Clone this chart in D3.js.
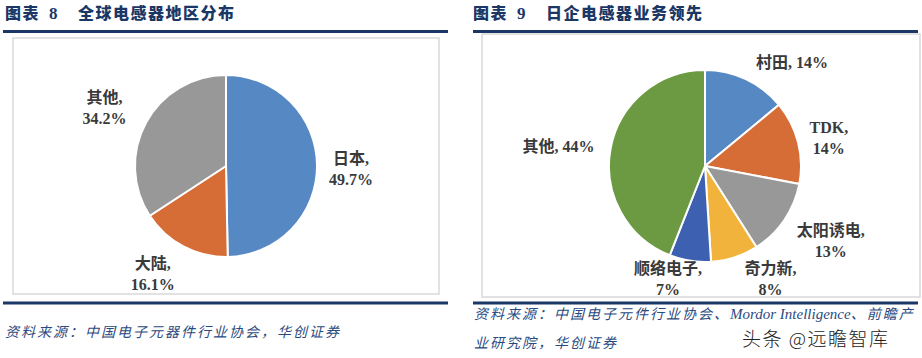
<!DOCTYPE html>
<html><head><meta charset="utf-8">
<script src="https://cdn.jsdelivr.net/npm/d3@7"></script>
<style>
html,body{margin:0;padding:0;background:#fff;}
svg{display:block;}
</style></head>
<body>
<svg id="c" width="922" height="358"></svg>
<script>
// ---- data ----
const leftCategories = ["日本", "大陆", "其他"];
const leftValues = [49.7, 16.1, 34.2];
const leftLabels = ["49.7%", "16.1%", "34.2%"];
const leftColors = ["#5689c4", "#d66d37", "#989898"];

const rightCategories = ["村田", "TDK", "太阳诱电", "奇力新", "顺络电子", "其他"];
const rightValues = [14, 14, 13, 8, 7, 44];
const rightLabels = ["14%", "14%", "13%", "8%", "7%", "44%"];
const rightColors = ["#5689c4", "#d66d37", "#989898", "#f2b33d", "#3d61b0", "#6b9a42"];
const rightSingleLine = [true, false, false, false, false, true];

// layout nudges for labels (pixels)
const leftNudge = [[-4, 3], [-13, -7], [-8, 2]];
const rightNudge = [[30, 17], [-6, 4], [15, -1], [24, -15], [-16, -20], [-15, 5]];

const svg = d3.select("#c");
const navy = "#1a3766";
const labelFont = "'Liberation Serif','Times New Roman','Noto Sans CJK SC',serif";
const cjkFont = "'Noto Sans CJK SC','Liberation Serif',sans-serif";

// Titles
function title(x, num, txt) {
  const t = svg.append("text").attr("x", x).attr("y", 19)
    .attr("font-family", cjkFont).attr("font-weight", 900)
    .attr("font-size", 16).attr("fill", navy).attr("letter-spacing", 1.5);
  t.append("tspan").text("图表");
  t.append("tspan").attr("font-family", labelFont).attr("font-weight", 700).attr("font-size", 17).attr("dx", 9).text(num);
  t.append("tspan").attr("dx", 19).text(txt);
}
title(5, "8", "全球电感器地区分布");
title(473, "9", "日企电感器业务领先");

// rules
[[3, 448], [473, 918]].forEach(([a, b]) => {
  svg.append("line").attr("x1", a).attr("x2", b).attr("y1", 31.5).attr("y2", 31.5)
    .attr("stroke", navy).attr("stroke-width", 3);
  svg.append("line").attr("x1", a).attr("x2", b).attr("y1", 303).attr("y2", 303)
    .attr("stroke", navy).attr("stroke-width", 3);
});

// boxes
svg.append("rect").attr("x", 13).attr("y", 38).attr("width", 426).attr("height", 256)
  .attr("fill", "#fff").attr("stroke", "#d9d9d9").attr("stroke-width", 1.5);
svg.append("rect").attr("x", 482).attr("y", 34).attr("width", 438).attr("height", 263)
  .attr("fill", "#fff").attr("stroke", "#d9d9d9").attr("stroke-width", 1.5);

function drawPie(cx, cy, r, cats, vals, labs, cols, nudge, single) {
  const pie = d3.pie().sort(null).value(d => d)(vals);
  const arc = d3.arc().innerRadius(0).outerRadius(r);
  const g = svg.append("g").attr("transform", `translate(${cx},${cy})`);
  g.selectAll("path").data(pie).enter().append("path")
    .attr("d", arc).attr("fill", (d, i) => cols[i])
    .attr("stroke", "#fff").attr("stroke-width", 2).attr("stroke-linejoin", "round");
  const lr = r + 38;
  pie.forEach((d, i) => {
    const a = (d.startAngle + d.endAngle) / 2;
    const x = Math.sin(a) * lr + nudge[i][0];
    const y = -Math.cos(a) * lr + nudge[i][1];
    const t = g.append("text").attr("text-anchor", "middle")
      .attr("font-family", labelFont).attr("font-weight", 700)
      .attr("font-size", 16).attr("fill", "#3a3a3a");
    if (single && single[i]) {
      t.attr("x", x).attr("y", y + 6).text(cats[i] + ", " + labs[i]);
    } else {
      t.append("tspan").attr("x", x).attr("y", y - 4).text(cats[i] + ",");
      t.append("tspan").attr("x", x).attr("y", y + 17).text(labs[i]);
    }
  });
}
drawPie(226, 166, 91, leftCategories, leftValues, leftLabels, leftColors, leftNudge, null);
drawPie(705, 166, 96, rightCategories, rightValues, rightLabels, rightColors, rightNudge, rightSingleLine);

// footers
const srcColor = "#2b4a80";
function footer(x, y, txt) {
  svg.append("text").attr("x", x).attr("y", y)
    .attr("font-family", "'Noto Sans CJK SC','Liberation Serif',sans-serif")
    .attr("font-style", "italic").attr("font-size", 14).attr("fill", srcColor)
    .attr("letter-spacing", 2).text(txt);
}
footer(5, 337, "资料来源：中国电子元器件行业协会，华创证券");
const f1 = svg.append("text").attr("x", 474).attr("y", 319)
  .attr("font-style", "italic").attr("font-size", 14).attr("fill", srcColor)
  .attr("font-family", "'Noto Sans CJK SC',sans-serif");
f1.append("tspan").attr("letter-spacing", 2).text("资料来源：中国电子元件行业协会、");
f1.append("tspan").attr("font-family", labelFont).attr("font-size", 15).text("Mordor Intelligence");
f1.append("tspan").attr("letter-spacing", 2).text("、前瞻产");
footer(474, 348, "业研究院，华创证券");

// watermark
svg.append("text").attr("x", 742).attr("y", 346)
  .attr("font-family", "'Noto Sans CJK SC',sans-serif").attr("font-size", 19)
  .attr("letter-spacing", 1.5)
  .attr("fill", "#222").attr("stroke", "#fff").attr("stroke-width", 3)
  .attr("paint-order", "stroke").attr("font-weight", 300).text("头条 @远瞻智库");
</script>
</body></html>
